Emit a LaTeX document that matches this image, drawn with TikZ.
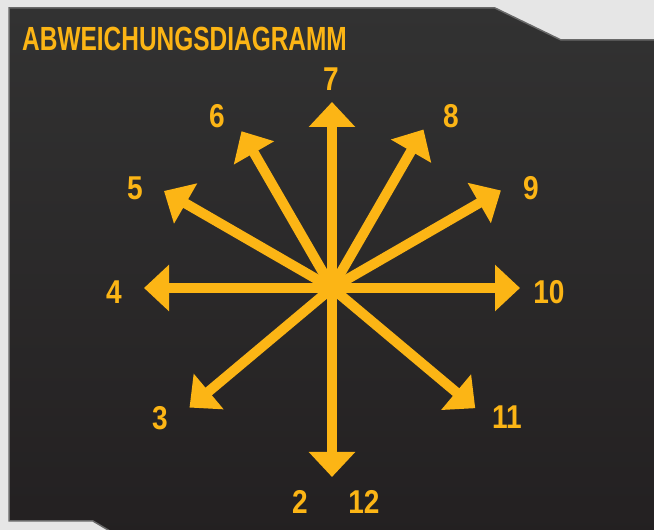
\documentclass[tikz,border=0pt]{standalone}
\usepackage{fontspec}
\usepackage{tikz}
\usetikzlibrary{arrows.meta,calc}
\newfontfamily\titlefont{Liberation Sans}[FakeStretch=0.73]
\newfontfamily\numfont{Liberation Sans}[FakeStretch=0.85]
\definecolor{devyellow}{RGB}{252,181,21}
\definecolor{paneltop}{RGB}{50,50,50}
\definecolor{panelbot}{RGB}{35,32,33}
\definecolor{panelrim}{RGB}{105,105,105}
\definecolor{outergray}{RGB}{230,230,230}
\tikzset{
  dev/.style   ={draw=devyellow, line width=10pt,
                 -{Triangle[length=25pt,width=45pt]}},
  dirnum/.style={text=devyellow, inner sep=0pt, anchor=center,
                 font=\numfont\bfseries\fontsize{33}{36}\selectfont},
  heading/.style={text=devyellow, inner sep=0pt, anchor=base west,
                 font=\titlefont\bfseries\fontsize{33.5}{36}\selectfont},
}
\begin{document}
\begin{tikzpicture}[x=1pt,y=1pt]
\useasboundingbox (0,0) rectangle (654,530);
\fill[outergray] (0,0) rectangle (654,530);

% the dark panel with cut corners
\begin{scope}
  \clip (0,0) rectangle (654,530);
  \shade[top color=paneltop, bottom color=panelbot, draw=panelrim, line width=1.5pt]
    (9,522) -- (495,522) -- (561,490) -- (664,490) -- (664,-10)
    -- (125,-10) -- (93,9) -- (9,9) -- cycle;
\end{scope}

\node[heading] (title) at (22,479) {ABWEICHUNGSDIAGRAMM};

\coordinate (c) at (332,242);
\foreach \n/\a/\l in {10/0/188, 9/30/195, 8/60/183, 7/90/186, 6/120/181,
                      5/150/194, 4/180/188, 3/220/186, 12/270/189, 11/320/187} {
  \coordinate (t\n) at ([shift={(\a:\l)}]c);
  \draw[dev] (c) -- (t\n);
}

\node[dirnum] (n7)  at (331,451) {7};
\node[dirnum] (n6)  at (217,414) {6};
\node[dirnum] (n8)  at (451,414) {8};
\node[dirnum] (n5)  at (135,342) {5};
\node[dirnum] (n9)  at (531,342) {9};
\node[dirnum] (n4)  at (114,238) {4};
\node[dirnum] (n10) at (549,238) {10};
\node[dirnum] (n3)  at (160,112) {3};
\node[dirnum] (n11) at (507,113) {11};
\node[dirnum] (n2)  at (300,28)  {2};
\node[dirnum] (n12) at (364,28)  {12};
\end{tikzpicture}
\end{document}
